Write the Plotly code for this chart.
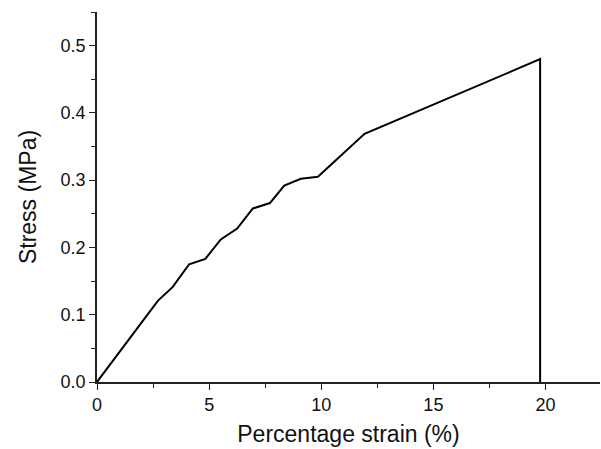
import plotly.graph_objects as go

strain = [0.0, 2.72, 3.37, 4.11, 4.83, 5.52, 6.25, 6.95, 7.71, 8.35, 9.09, 9.85, 11.93, 15.0, 18.5, 19.76, 19.76]
stress = [0.0, 0.121, 0.141, 0.175, 0.183, 0.212, 0.228, 0.258, 0.266, 0.292, 0.302, 0.305, 0.369, 0.412, 0.462, 0.480, 0.0]

x_ticks = [0, 5, 10, 15, 20]
y_ticks = [0.0, 0.1, 0.2, 0.3, 0.4, 0.5]
y_tick_labels = ["0.0", "0.1", "0.2", "0.3", "0.4", "0.5"]

fig = go.Figure()
fig.add_trace(go.Scatter(x=strain, y=stress, mode="lines",
                         line=dict(color="black", width=2), showlegend=False))

font_family = "Liberation Sans, Arial, sans-serif"
axis_common = dict(
    showline=True, linecolor="#222", linewidth=1.5,
    ticks="outside", ticklen=6, tickwidth=1.2, tickcolor="#222",
    showgrid=False, zeroline=False,
    tickfont=dict(family=font_family, size=18, color="#111"),
)
fig.update_xaxes(range=[0, 22.43], tickvals=x_ticks,
                 minor=dict(ticks="outside", ticklen=4, dtick=2.5, tick0=0, tickcolor="#222"),
                 title=dict(text="Percentage strain (%)", font=dict(family=font_family, size=23, color="#111"), standoff=12),
                 **axis_common)
fig.update_yaxes(range=[0, 0.55], tickvals=y_ticks, ticktext=y_tick_labels,
                 minor=dict(ticks="outside", ticklen=4, dtick=0.05, tick0=0, tickcolor="#222"),
                 title=dict(text="Stress (MPa)", font=dict(family=font_family, size=23, color="#111"), standoff=18),
                 **axis_common)
fig.update_layout(width=601, height=449, margin=dict(l=97, r=1, t=12, b=67),
                  plot_bgcolor="white", paper_bgcolor="white")
fig.write_html("out.html")
